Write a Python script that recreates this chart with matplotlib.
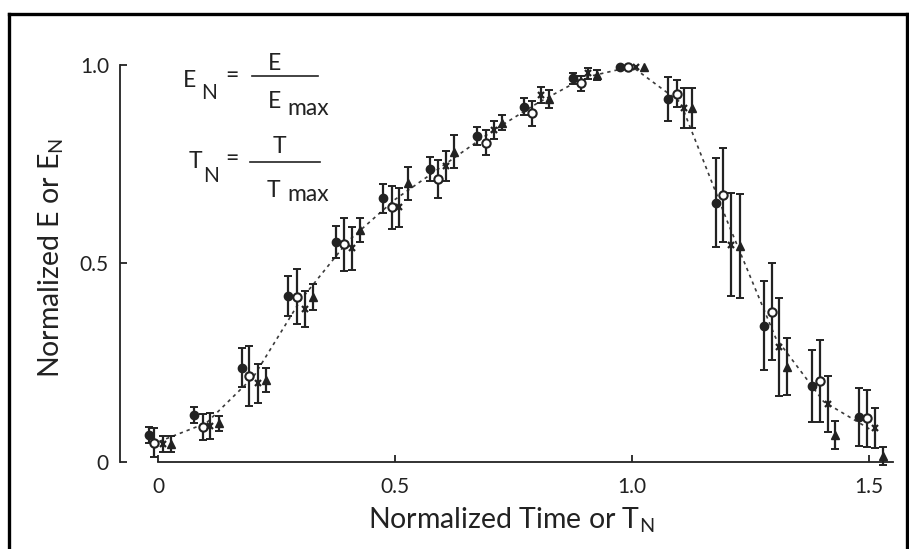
import numpy as np
import matplotlib
matplotlib.use("Agg")
import matplotlib.pyplot as plt
from matplotlib.lines import Line2D

plt.rcParams['font.family'] = ['Lato', 'DejaVu Sans']
plt.rcParams['mathtext.fontset'] = 'custom'
plt.rcParams['mathtext.rm'] = 'Lato'

INK = '#222222'

# four series, one point per normalized-time group
x_fill = [-0.018, 0.077, 0.177, 0.275, 0.376, 0.475, 0.574, 0.674, 0.772, 0.875, 0.975, 1.077, 1.177, 1.278, 1.379, 1.480]
y_fill = [0.068, 0.118, 0.238, 0.418, 0.555, 0.664, 0.737, 0.821, 0.895, 0.966, 0.996, 0.914, 0.653, 0.343, 0.191, 0.113]
e_fill = [0.020, 0.020, 0.050, 0.050, 0.040, 0.036, 0.030, 0.023, 0.022, 0.015, 0.0, 0.056, 0.112, 0.112, 0.090, 0.073]

x_open = [-0.008, 0.094, 0.193, 0.293, 0.393, 0.493, 0.591, 0.692, 0.790, 0.892, 0.992, 1.094, 1.193, 1.295, 1.397, 1.495]
y_open = [0.049, 0.088, 0.217, 0.416, 0.548, 0.641, 0.713, 0.804, 0.878, 0.954, 0.996, 0.928, 0.673, 0.379, 0.204, 0.110]
e_open = [0.036, 0.032, 0.075, 0.069, 0.066, 0.054, 0.047, 0.031, 0.031, 0.019, 0.0, 0.035, 0.118, 0.123, 0.103, 0.072]

x_x = [0.010, 0.110, 0.210, 0.310, 0.409, 0.509, 0.608, 0.708, 0.808, 0.908, 1.008, 1.110, 1.209, 1.311, 1.413, 1.513]
y_x = [0.045, 0.090, 0.198, 0.385, 0.538, 0.641, 0.746, 0.836, 0.924, 0.979, 0.996, 0.891, 0.547, 0.290, 0.146, 0.085]
e_x = [0.021, 0.033, 0.049, 0.045, 0.055, 0.050, 0.038, 0.022, 0.021, 0.014, 0.0, 0.050, 0.130, 0.124, 0.070, 0.050]

x_tri = [0.027, 0.128, 0.227, 0.328, 0.426, 0.527, 0.624, 0.725, 0.826, 0.926, 1.025, 1.127, 1.228, 1.328, 1.428, 1.530]
y_tri = [0.045, 0.097, 0.207, 0.416, 0.584, 0.702, 0.782, 0.855, 0.914, 0.975, 0.996, 0.891, 0.544, 0.240, 0.068, 0.015]
e_tri = [0.020, 0.018, 0.030, 0.032, 0.030, 0.042, 0.042, 0.020, 0.023, 0.013, 0.0, 0.050, 0.130, 0.072, 0.035, 0.023]

series = [
    (x_fill, y_fill, e_fill, dict(marker='o', markersize=6, markerfacecolor=INK, markeredgecolor=INK)),
    (x_open, y_open, e_open, dict(marker='o', markersize=6, markerfacecolor='white', markeredgecolor=INK, markeredgewidth=1.5)),
    (x_x, y_x, e_x, dict(marker='x', markersize=5, markeredgecolor=INK, markeredgewidth=1.6)),
    (x_tri, y_tri, e_tri, dict(marker='^', markersize=6.3, markerfacecolor=INK, markeredgecolor=INK)),
]

W, H = 909, 549
fig = plt.figure(figsize=(W / 100, H / 100), dpi=100)
ax = fig.add_axes([115.3 / W, 1 - 481.85 / H, (906.9 - 115.3) / W, (481.85 - 33.2) / H])
ax.set_xlim(-0.09, 1.58)
ax.set_ylim(-0.05, 1.08)

# dotted curve through the group means
mean_x = np.mean([x_fill, x_open, x_x, x_tri], axis=0)
mean_y = np.mean([y_fill, y_open, y_x, y_tri], axis=0)
ax.plot(mean_x, mean_y, color='#3a3a3a', lw=1.2, ls=(0, (2.0, 2.4)), zorder=1)

for xs, ys, es, style in series:
    xs, ys, es = np.array(xs), np.array(ys), np.array(es)
    has = es > 0
    ax.errorbar(xs[has], ys[has], yerr=es[has], fmt='none', ecolor=INK,
                elinewidth=1.6, capsize=3, capthick=1.4, zorder=2)
    ax.plot(xs, ys, ls='none', zorder=3, **style)

for side in ('top', 'right'):
    ax.spines[side].set_visible(False)
ax.spines['left'].set_position(('data', -0.08))
ax.spines['left'].set_bounds(0, 1.0)
ax.spines['bottom'].set_position(('data', 0))
ax.spines['bottom'].set_bounds(0, 1.55)
for side in ('left', 'bottom'):
    ax.spines[side].set_color(INK)
    ax.spines[side].set_linewidth(1.3)

ax.set_xticks([0, 0.5, 1.0, 1.5])
ax.set_xticklabels(['0', '0.5', '1.0', '1.5'])
ax.set_yticks([0, 0.5, 1.0])
ax.set_yticklabels(['0', '0.5', '1.0'])
ax.tick_params(direction='in', length=5, width=1.3, color=INK,
               labelcolor=INK, labelsize=15)
ax.tick_params(axis='x', pad=11)
ax.tick_params(axis='y', pad=8)

ax.set_xlabel(r'Normalized Time or T$_\mathrm{N}$', fontsize=20.5, color=INK, labelpad=6)
ax.set_ylabel(r'Normalized E or E$_\mathrm{N}$', fontsize=20.5, color=INK, labelpad=10)


def put(s, px, py, size=16.5, ha='left'):
    fig.text(px / W, 1 - py / H, s, fontsize=size, color=INK, ha=ha, va='baseline')


def bar(x0, x1, py):
    fig.add_artist(Line2D([x0 / W, x1 / W], [1 - py / H, 1 - py / H],
                          transform=fig.transFigure, color=INK, lw=1.2))


# E_N = E / E_max
put('E', 183, 87)
put('N', 201, 99, size=15)
put('=', 232, 82, ha='center')
bar(252, 318, 76)
put('E', 275, 70, ha='center')
put('E', 268, 108)
put('max', 287, 115)

# T_N = T / T_max
put('T', 189, 168)
put('N', 203, 182, size=15)
put('=', 232, 165, ha='center')
bar(250, 320, 162)
put('T', 279, 153, ha='center')
put('T', 267, 197)
put('max', 287, 201)

# frame around the figure
for xs, ys in [([9, 9], [560, 14]), ([9, 907], [14, 14]), ([907, 907], [14, 560])]:
    fig.add_artist(Line2D([v / W for v in xs], [1 - v / H for v in ys],
                          transform=fig.transFigure, color='black', lw=2.4))

fig.savefig('out.png', dpi=100, facecolor='white')
